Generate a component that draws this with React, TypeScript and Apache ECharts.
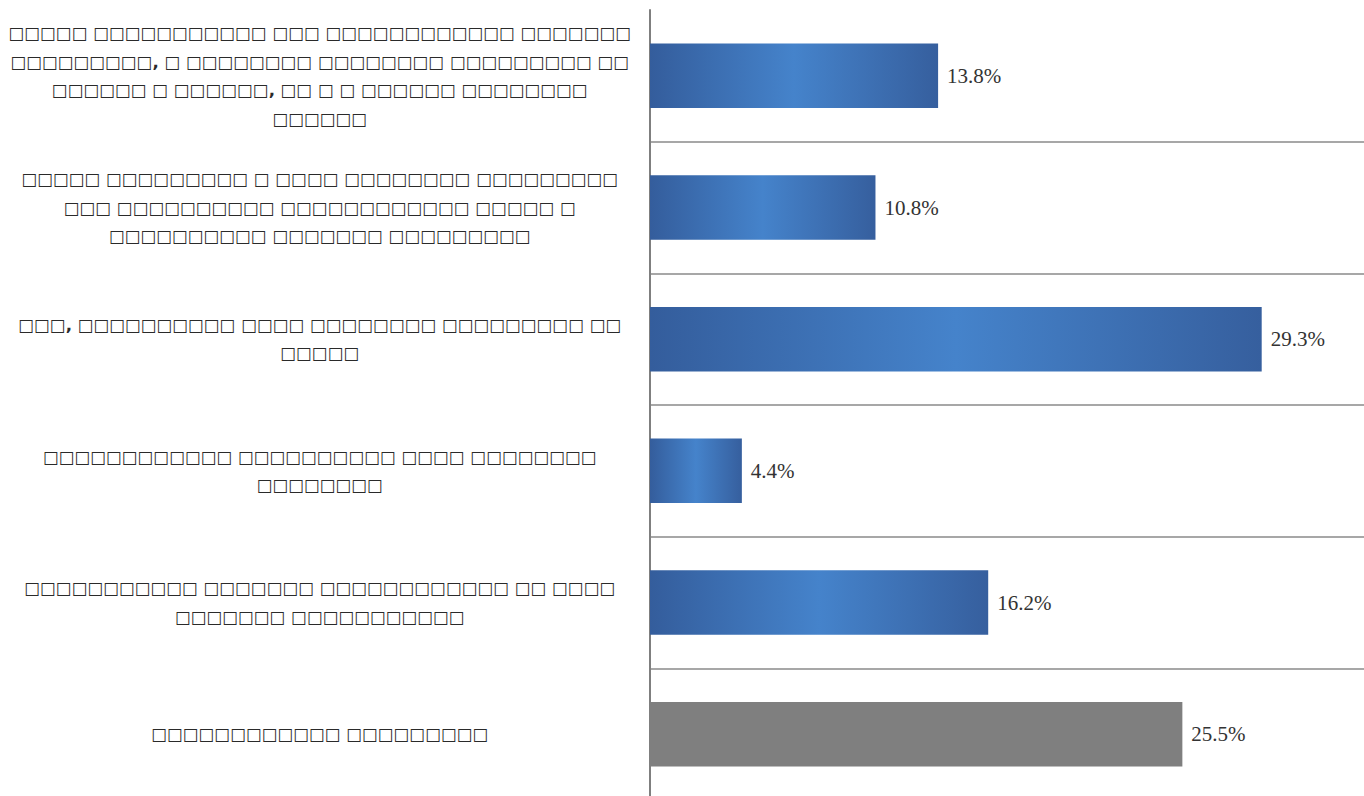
import React, { useEffect, useRef } from "react";
import * as echarts from "echarts";

const categories: string[] = [
  "□□□□□ □□□□□□□□□□□ □□□ □□□□□□□□□□□□ □□□□□□□\n□□□□□□□□□, □ □□□□□□□□ □□□□□□□□ □□□□□□□□□ □□\n□□□□□□ □ □□□□□□, □□ □ □ □□□□□□ □□□□□□□□\n□□□□□□",
  "□□□□□ □□□□□□□□□ □ □□□□ □□□□□□□□ □□□□□□□□□\n□□□ □□□□□□□□□□ □□□□□□□□□□□□ □□□□□ □\n□□□□□□□□□□ □□□□□□□ □□□□□□□□□",
  "□□□, □□□□□□□□□□ □□□□ □□□□□□□□ □□□□□□□□□ □□\n□□□□□",
  "□□□□□□□□□□□□ □□□□□□□□□□ □□□□ □□□□□□□□\n□□□□□□□□",
  "□□□□□□□□□□□ □□□□□□□ □□□□□□□□□□□□ □□ □□□□\n□□□□□□□ □□□□□□□□□□□",
  "□□□□□□□□□□□□ □□□□□□□□□",
];

const values: number[] = [13.8, 10.8, 29.3, 4.4, 16.2, 25.5];
const greyIndex = 5; // last bar drawn in grey

export default function App() {
  const ref = useRef<HTMLDivElement>(null);

  useEffect(() => {
    if (!ref.current) return;
    const chart = echarts.init(ref.current, undefined, { renderer: "svg" });
    const blue = new echarts.graphic.LinearGradient(0, 0, 1, 0, [
      { offset: 0, color: "#345d9c" },
      { offset: 0.5, color: "#4583cb" },
      { offset: 1, color: "#365f9e" },
    ]);
    chart.setOption({
      animation: false,
      backgroundColor: "#ffffff",
      grid: {
        left: 650,
        right: 0,
        top: 10,
        bottom: -4,
        containLabel: false,
        outerBoundsMode: "none",
      },
      xAxis: {
        type: "value",
        min: 0,
        max: 34.2,
        show: false,
      },
      yAxis: {
        type: "category",
        inverse: true,
        data: categories,
        axisLine: { show: true, lineStyle: { color: "#7f7f7f", width: 2 } },
        axisTick: { show: false },
        splitLine: {
          show: true,
          interval: (i: number) => i !== 0,
          lineStyle: { color: "#8a8a8a", width: 1.5 },
        },
        axisLabel: {
          margin: 330,
          align: "center",
          verticalAlign: "middle",
          fontFamily: "DejaVu Sans",
          fontWeight: "bold",
          fontSize: 16.7,
          lineHeight: 28.5,
          color: "#2a2a2a",
        },
      },
      series: [
        {
          type: "bar",
          barWidth: "49%",
          data: values.map((v, i) => ({
            value: v,
            itemStyle: { color: i === greyIndex ? "#7f7f7f" : blue },
          })),
          label: {
            show: true,
            position: "right",
            distance: 9,
            formatter: (p: any) => p.value.toFixed(1) + "%",
            fontFamily: "Liberation Serif",
            fontSize: 21,
            color: "#333333",
          },
        },
      ],
    });
    return () => chart.dispose();
  }, []);

  return (
    <div
      ref={ref}
      style={{ position: "absolute", left: 0, top: 0, width: 1364, height: 796 }}
    />
  );
}
